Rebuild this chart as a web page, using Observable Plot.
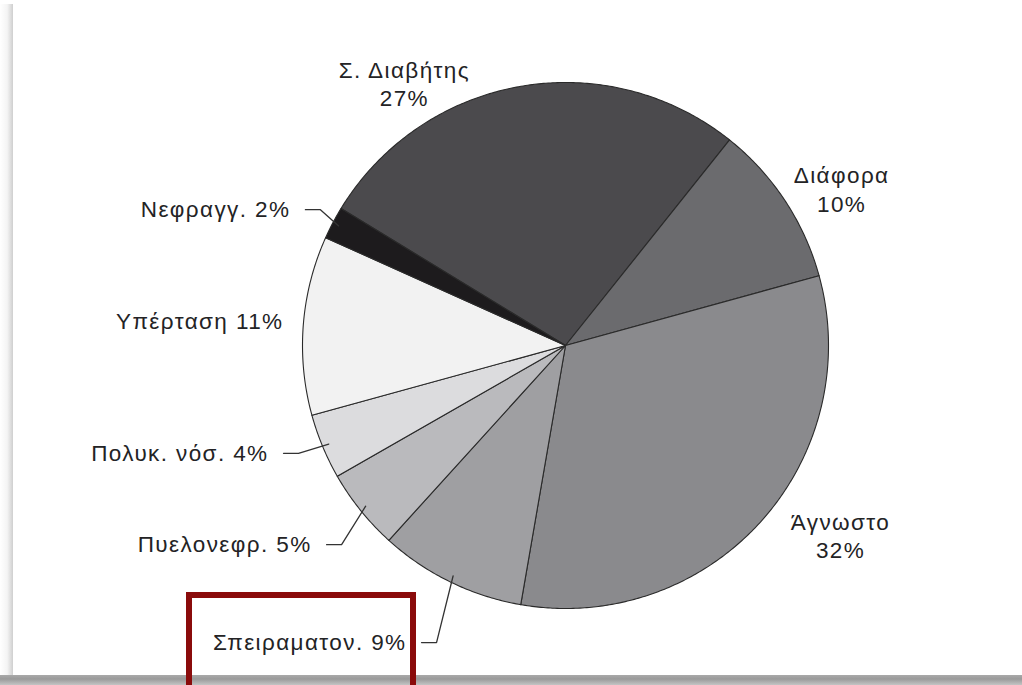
<!DOCTYPE html>
<html>
<head>
<meta charset="utf-8">
<script src="https://cdn.jsdelivr.net/npm/d3@7"></script>
<script src="https://cdn.jsdelivr.net/npm/@observablehq/plot@0.6"></script>
<style>
  html, body { margin: 0; padding: 0; background: #fff; }
  #wrap { position: relative; width: 1022px; height: 685px; overflow: hidden; background: #fff; }
  #chart { position: absolute; left: 0; top: 0; }
  #chart text { letter-spacing: 1.4px; }
  #shadowLeft { position: absolute; left: 0; top: 4px; width: 13px; height: 681px;
    background: linear-gradient(to right, #ffffff 0%, #f4f4f4 55%, #cfcfcf 100%); z-index: 2; }
  #shadowBottom { position: absolute; left: 0; top: 675px; width: 1022px; height: 10px;
    background: linear-gradient(to bottom, #a9a9a9 0%, #9a9a9a 40%, #c4c4c4 100%); z-index: 2; }
  #redBox { position: absolute; left: 186px; top: 592px; width: 218px; height: 110px;
    border: 6px solid #8a0b0b; box-sizing: content-box; z-index: 3; }
</style>
</head>
<body>
<div id="wrap">
  <div id="chart"></div>
  <div id="shadowLeft"></div>
  <div id="shadowBottom"></div>
  <div id="redBox"></div>
</div>
<script>
// ---- data ----
const categories = ["Σ. Διαβήτης", "Διάφορα", "Άγνωστο", "Σπειραματον.", "Πυελονεφρ.", "Πολυκ. νόσ.", "Υπέρταση", "Νεφραγγ."];
const percents = [27, 10, 32, 9, 5, 4, 11, 2];
const twoLineLabel = [true, true, true, false, false, false, false, false];
const hasLeader = [false, false, false, true, true, true, false, true];

// ---- styles / layout ----
const fills = ["#4b4a4d", "#6b6b6e", "#8a8a8d", "#9f9fa2", "#bababd", "#dcdcde", "#f2f2f2", "#1d1b1d"];
const startAngle = -58.6;            // degrees, clockwise from north
const W = 1022, H = 685, cx = 565, cy = 345, R = 263;
// label anchor in polar form (angle in degrees clockwise from north, radius in pie radii)
const labelAngle = [-31.7, 60.7, 124.9, 208.3, 232.0, 250.1, 274.85, 296.2];
const labelRadius = [1.166, 1.204, 1.275, 1.283, 1.230, 1.205, 1.080, 1.170];
const fontFamily = "'Liberation Sans', Arial, Helvetica, sans-serif";

const rad = d => d * Math.PI / 180;
const polar = (deg, r) => ({x: r * Math.sin(rad(deg)), y: r * Math.cos(rad(deg))});

// slices
let cum = 0;
const slices = categories.map((c, i) => {
  const a0 = startAngle + cum * 3.6;
  cum += percents[i];
  const a1 = startAngle + cum * 3.6;
  const pts = [{x: 0, y: 0}];
  const n = Math.max(2, Math.ceil((a1 - a0) / 0.5));
  for (let k = 0; k <= n; k++) pts.push(polar(a0 + (a1 - a0) * k / n, 1));
  return {name: c, pct: percents[i], fill: fills[i], mid: (a0 + a1) / 2, pts};
});

const labels = slices.map((s, i) => {
  const p = polar(labelAngle[i], labelRadius[i]);
  return {
    name: s.name,
    text: twoLineLabel[i] ? `${s.name}\n${s.pct}%` : `${s.name} ${s.pct}%`,
    x: p.x, y: p.y, two: twoLineLabel[i], leader: hasLeader[i], mid: s.mid
  };
});

// leader lines: text end -> short horizontal -> slice edge at mid angle
const leaders = [];
labels.filter(l => l.leader).forEach(l => {
  const e = polar(l.mid, 0.975);
  leaders.push({id: l.name, x: l.x + 16 / R, y: l.y});
  leaders.push({id: l.name, x: l.x + 31 / R, y: l.y});
  leaders.push({id: l.name, x: e.x, y: e.y});
});

const marks = slices.map(s =>
  Plot.line(s.pts, {x: "x", y: "y", curve: "linear-closed", fill: s.fill, stroke: "#2a2a2a", strokeWidth: 1.1, strokeLinejoin: "round"})
);
marks.push(Plot.line(leaders, {x: "x", y: "y", z: "id", stroke: "#333", strokeWidth: 1.3}));
marks.push(Plot.text(labels.filter(l => l.two), {x: "x", y: "y", dy: -2, text: "text", textAnchor: "middle", lineHeight: 1.25, fontSize: 22.5, fill: "#232325", fontFamily}));
marks.push(Plot.text(labels.filter(l => !l.two), {x: "x", y: "y", text: "text", textAnchor: "end", dx: 1, fontSize: 22.5, fill: "#232325", fontFamily}));

const chart = Plot.plot({
  width: W, height: H,
  marginTop: 0, marginRight: 0, marginBottom: 0, marginLeft: 0,
  x: {domain: [-cx / R, (W - cx) / R], axis: null},
  y: {domain: [-(H - cy) / R, cy / R], axis: null},
  style: {background: "transparent", fontFamily},
  marks
});
document.getElementById("chart").appendChild(chart);
</script>
</body>
</html>
